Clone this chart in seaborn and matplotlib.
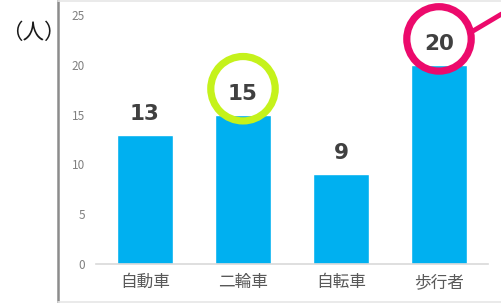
import matplotlib
matplotlib.use("Agg")
import matplotlib.pyplot as plt
import seaborn as sns
import pandas as pd
from matplotlib.lines import Line2D

categories = ["自動車", "二輪車", "自転車", "歩行者"]
values = [13, 15, 9, 20]
yticks = [0, 5, 10, 15, 20, 25]
unit_label = "（人）"
highlight = {"二輪車": "#C5F21B", "歩行者": "#EC0A6C"}

sns.set_theme(style="white")
plt.rcParams['font.family'] = ['Noto Sans CJK JP', 'DejaVu Sans']

fig = plt.figure(figsize=(5.02, 3.03), dpi=100)
ax = fig.add_axes([96/502, 1-264/303, (488-96)/502, (264-15)/303])

df = pd.DataFrame({"cat": categories, "val": values})
sns.barplot(data=df, x="cat", y="val", color="#00B0F0", saturation=1,
            width=0.57, ax=ax)

ax.set_xlim(-0.5, 3.5)
ax.set_ylim(0, 25)
ax.set_yticks(yticks)
ax.set_xlabel("")
ax.set_ylabel("")
for s in ["top", "right", "left"]:
    ax.spines[s].set_visible(False)
ax.spines["bottom"].set_color("#D9D9D9")
ax.spines["bottom"].set_linewidth(1.2)
ax.tick_params(axis="y", length=0, pad=8, labelsize=8.5, labelcolor="#808080")
ax.tick_params(axis="x", which="major", length=0, pad=7, labelsize=12,
               labelcolor="#595959")
ax.set_xticks([i + 0.5 for i in range(-1, len(categories))], minor=True)
ax.tick_params(axis="x", which="minor", length=5, color="#D9D9D9", width=1.2,
               direction="out")

for i, (c, v) in enumerate(zip(categories, values)):
    ax.text(i, v + 2.1, str(v), ha="center", va="center", fontsize=15.5,
            fontweight="bold", color="#404040", family=["DejaVu Sans"])
    if c in highlight:
        ax.scatter([i], [v + 2.6], s=2150, facecolors="none",
                   edgecolors=highlight[c], linewidths=5.2, clip_on=False,
                   zorder=5)

# callout line from pink circle going off to top-right
fig.add_artist(Line2D([473/502, 505/502], [1-31/303, 1-12/303],
                      color=highlight["歩行者"], lw=3.5,
                      transform=fig.transFigure, solid_capstyle="butt"))

# frame lines
fig.add_artist(Line2D([58/502, 58/502], [0, 1], color="#8C8C8C", lw=1.8,
                      transform=fig.transFigure))
fig.add_artist(Line2D([58/502, 1], [1-0.8/303, 1-0.8/303], color="#E6E6E6",
                      lw=1.2, transform=fig.transFigure))
fig.add_artist(Line2D([58/502, 1], [1.5/303, 1.5/303], color="#E6E6E6",
                      lw=1.2, transform=fig.transFigure))

fig.text(1/502, 1-33/303, unit_label, ha="left", va="center",
         fontsize=15.5, color="#1a1a1a")

fig.savefig("out.png", dpi=100)
